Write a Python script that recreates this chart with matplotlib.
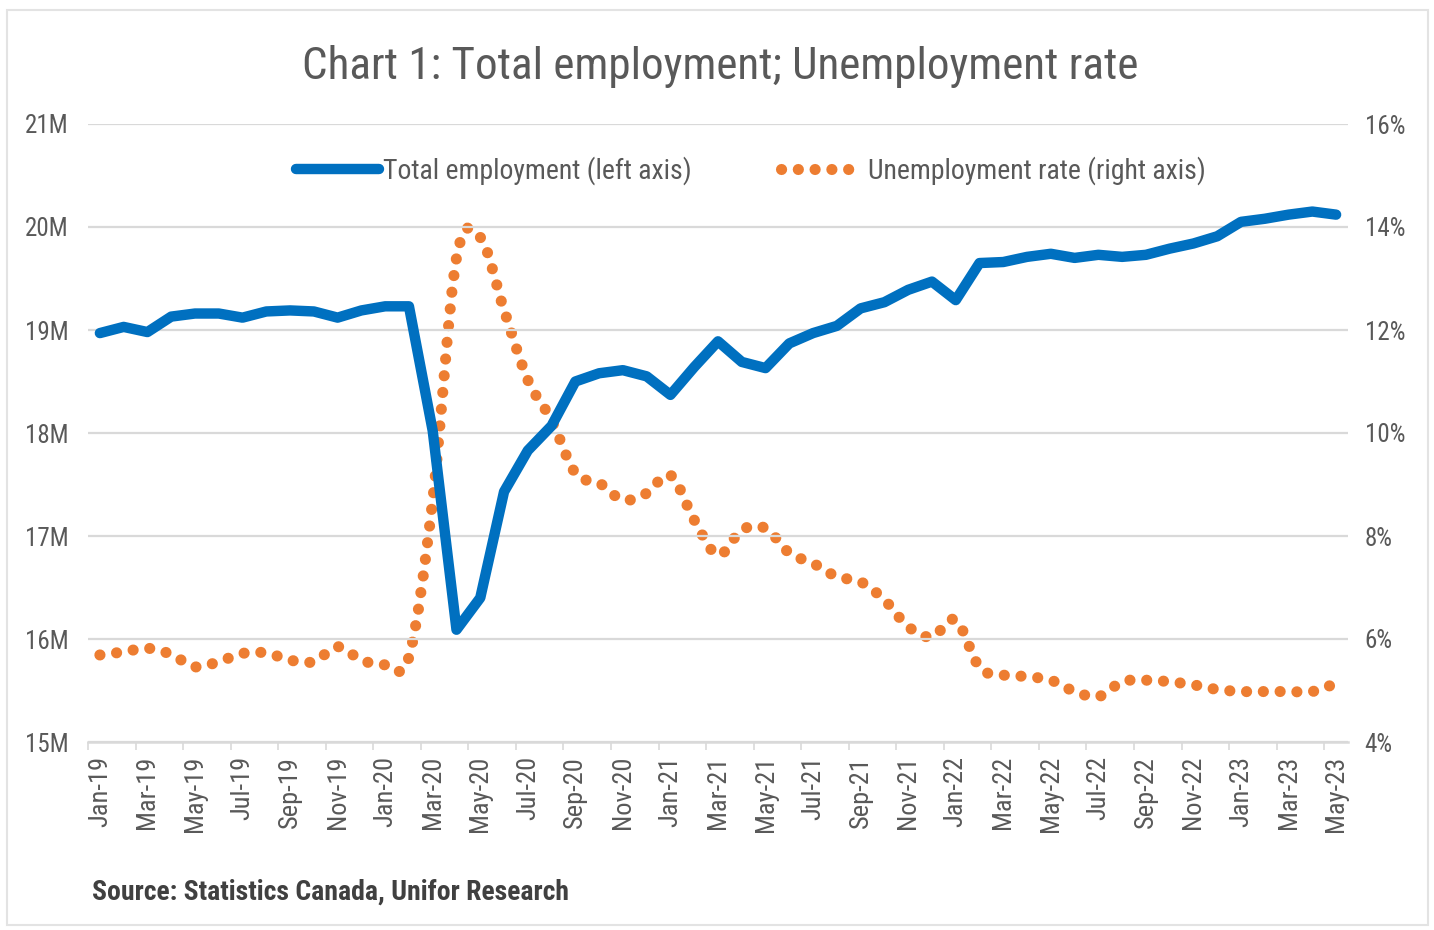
import matplotlib
matplotlib.use("Agg")
import matplotlib.pyplot as plt
from matplotlib.lines import Line2D
from matplotlib.path import Path
from matplotlib.patches import PathPatch, Rectangle
import numpy as np

months = ["Jan", "Feb", "Mar", "Apr", "May", "Jun", "Jul", "Aug", "Sep", "Oct", "Nov", "Dec"]
categories = [f"{m}-{y:02d}" for y in range(19, 24) for m in months][:53]

employment = [18.97, 19.03, 18.98, 19.13, 19.16, 19.16, 19.12, 19.18, 19.19, 19.18, 19.12, 19.19,
              19.23, 19.23, 18.02, 16.09, 16.40, 17.43, 17.83, 18.07, 18.50, 18.58, 18.61, 18.55,
              18.37, 18.64, 18.89, 18.69, 18.63, 18.87, 18.97, 19.04, 19.21, 19.27, 19.39, 19.47,
              19.29, 19.65, 19.66, 19.71, 19.74, 19.70, 19.73, 19.71, 19.73, 19.79, 19.84, 19.91,
              20.05, 20.08, 20.12, 20.15, 20.12]

unemployment = [5.69, 5.75, 5.82, 5.70, 5.46, 5.56, 5.72, 5.73, 5.59, 5.56, 5.85, 5.59,
                5.50, 5.65, 8.70, 13.40, 13.80, 12.39, 11.03, 10.25, 9.22, 9.03, 8.70, 8.83,
                9.18, 8.31, 7.63, 8.12, 8.15, 7.67, 7.47, 7.21, 7.11, 6.76, 6.24, 6.04,
                6.37, 5.45, 5.30, 5.27, 5.20, 4.98, 4.88, 5.17, 5.20, 5.17, 5.11, 5.02,
                4.98, 4.98, 4.98, 4.98, 5.14]

left_ticks = [15, 16, 17, 18, 19, 20, 21]
left_labels = ["15M", "16M", "17M", "18M", "19M", "20M", "21M"]
right_ticks = [4, 6, 8, 10, 12, 14, 16]
right_labels = ["4%", "6%", "8%", "10%", "12%", "14%", "16%"]

title = "Chart 1: Total employment; Unemployment rate"
source = "Source: Statistics Canada, Unifor Research"
series_names = ["Total employment (left axis)", "Unemployment rate (right axis)"]

BLUE = "#0070C0"
ORANGE = "#ED7D31"
TXT = "#595959"
GRID = "#D9D9D9"

plt.rcParams["font.family"] = ["Roboto Condensed", "DejaVu Sans"]
plt.rcParams["font.stretch"] = "condensed"

fig = plt.figure(figsize=(14.34, 9.30), dpi=100)
W, H = 1434, 930
ax = fig.add_axes([88 / W, 1 - 742 / H, (1348 - 88) / W, (742 - 124) / H])
ax2 = ax.twinx()

fig.patches.append(Rectangle((7 / W, 5 / H), (1428 - 7) / W, (920 - 5) / H, transform=fig.transFigure,
                             fill=False, edgecolor="#E3E3E3", linewidth=1.5))

x = np.arange(len(categories))
ax.set_xlim(-0.5, len(categories) - 0.5)
ax.set_ylim(15, 21)
ax2.set_ylim(4, 16)

for t in left_ticks:
    ax.axhline(t, color=GRID, linewidth=1.6, zorder=0)

ax.plot(x, employment, color=BLUE, linewidth=7.5, solid_capstyle="round", solid_joinstyle="round", zorder=3)

# smoothed (Catmull-Rom as Bezier) unemployment line in data coords
pts = np.column_stack([x, unemployment]).astype(float)
verts = [tuple(pts[0])]
codes = [Path.MOVETO]
n = len(pts)
for i in range(n - 1):
    p0 = pts[i - 1] if i > 0 else pts[i]
    p1 = pts[i]
    p2 = pts[i + 1]
    p3 = pts[i + 2] if i + 2 < n else pts[i + 1]
    c1 = p1 + (p2 - p0) / 6.0
    c2 = p2 - (p3 - p1) / 6.0
    verts += [tuple(c1), tuple(c2), tuple(p2)]
    codes += [Path.CURVE4] * 3
DOTS = (0, (0.01, 1.5))
patch = PathPatch(Path(verts, codes), fill=False, edgecolor=ORANGE, linewidth=8.0,
                  linestyle=DOTS, capstyle="round", zorder=4)
ax2.add_patch(patch)

for a in (ax, ax2):
    for s in ("top", "left", "right"):
        a.spines[s].set_visible(False)
ax.spines["bottom"].set_color(GRID)
ax.spines["bottom"].set_linewidth(1.8)
ax2.spines["bottom"].set_visible(False)

ax.set_yticks(left_ticks)
ax.set_yticklabels(left_labels)
ax2.set_yticks(right_ticks)
ax2.set_yticklabels(right_labels)
ax.tick_params(axis="y", length=0, pad=14, labelsize=18, labelcolor=TXT)
ax2.tick_params(axis="y", length=0, pad=12, labelsize=18, labelcolor=TXT)

ax.set_xticks(x[::2])
ax.set_xticklabels(categories[::2], rotation=90, fontsize=19, color=TXT)
ax.set_xticks(np.arange(-0.5, len(categories), 2), minor=True)
ax.tick_params(axis="x", which="major", length=0, pad=10)
ax.tick_params(axis="x", which="minor", length=6, color=GRID, width=1.2)

ax.set_zorder(ax2.get_zorder() + 1)
ax.patch.set_visible(False)

fig.text(720 / W, 1 - 66 / H, title, ha="center", va="center", fontsize=32.5, color=TXT)
fig.text(92 / W, 1 - 892 / H, source, ha="left", va="center", fontsize=20, color="#404040", fontweight="bold")

handles = [Line2D([0], [0], color=BLUE, linewidth=7.5, solid_capstyle="round"),
           Line2D([0], [0], color=ORANGE, linewidth=8.0, linestyle=DOTS, dash_capstyle="round")]
ax.legend(handles, series_names, loc="center", bbox_to_anchor=(0.526, 0.924), ncol=2, frameon=False,
          fontsize=20, labelcolor=TXT, handlelength=3.0, handletextpad=0.15, columnspacing=3.2)

fig.savefig("out.png", dpi=100)
